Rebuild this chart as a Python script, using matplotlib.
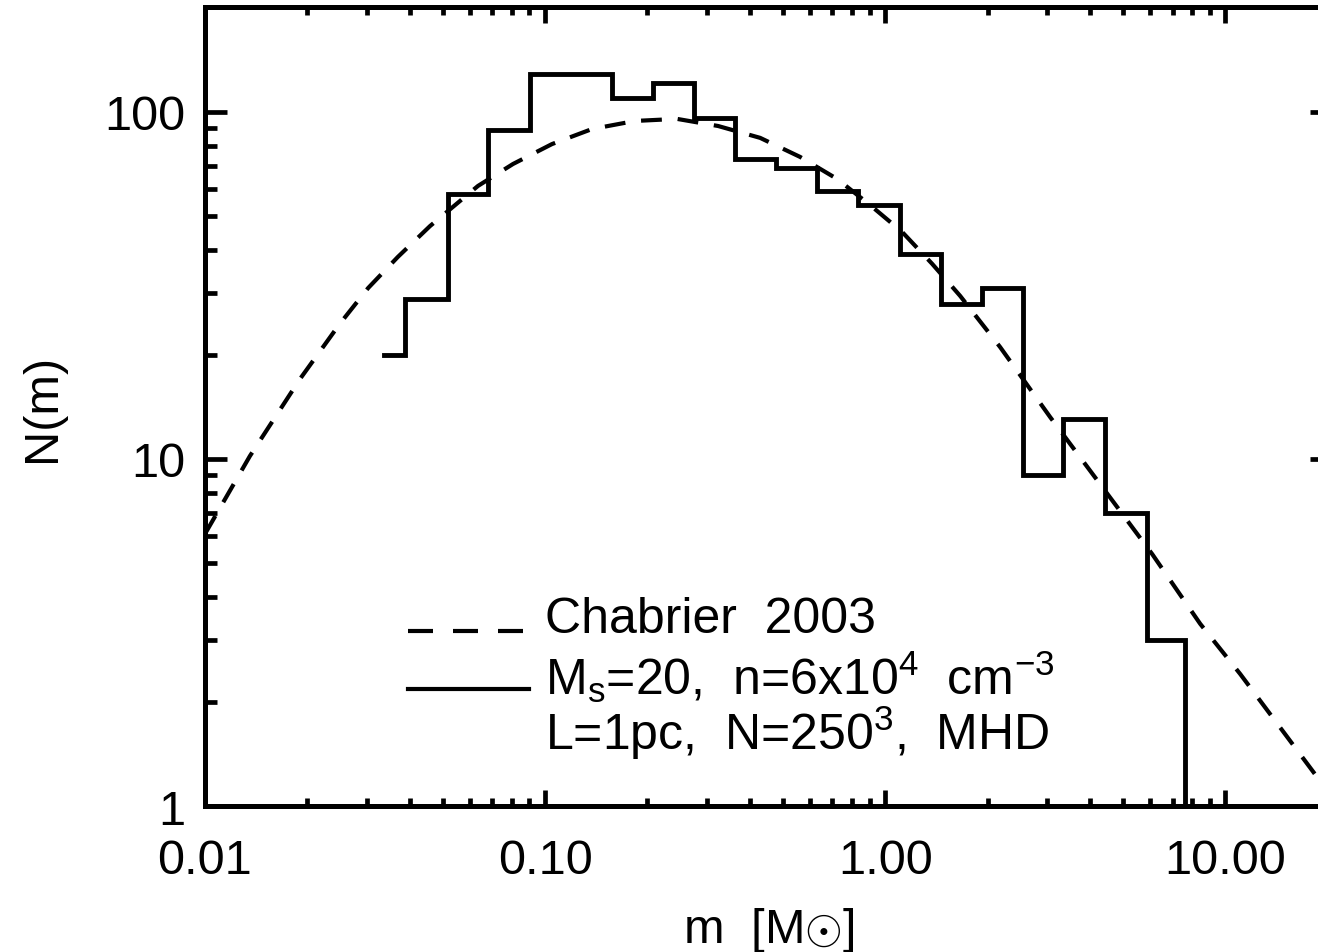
import numpy as np
import matplotlib.pyplot as plt
from matplotlib.ticker import FormatStrFormatter, NullFormatter

plt.rcParams['font.family'] = ['Liberation Sans', 'DejaVu Sans']
plt.rcParams['mathtext.fontset'] = 'custom'
plt.rcParams['mathtext.rm'] = 'Liberation Sans'
plt.rcParams['mathtext.it'] = 'Liberation Sans'
plt.rcParams['mathtext.sf'] = 'Liberation Sans'

# histogram of core masses (bin edges in Msun, counts per bin)
bin_edges = [0.0336, 0.0388, 0.0518, 0.0680, 0.0903, 0.1193, 0.1575, 0.2078,
             0.2743, 0.3621, 0.4779, 0.631, 0.833, 1.107, 1.461, 1.929,
             2.546, 3.338, 4.437, 5.897, 7.627]
bin_counts = [20, 29, 58, 89, 129, 129, 110, 121, 96, 73,
              69, 59, 54, 39, 28, 31, 9, 13, 7, 3]

# Chabrier 2003 curve
chab_m = [0.0100, 0.01356, 0.01903, 0.0249, 0.0302, 0.0369, 0.0459, 0.0635,
          0.0805, 0.1048, 0.1375, 0.1839, 0.2444, 0.3227, 0.4290, 0.5623,
          0.7226, 0.9035, 1.122, 1.375, 1.662, 2.179, 3.057, 4.347, 6.099,
          8.44, 11.07, 18.77, 20.6]
chab_n = [6.08, 10.2, 17.0, 24.5, 31.1, 38.2, 46.9, 61.2,
          70.8, 80.8, 89.3, 94.2, 95.5, 91.1, 84.2, 74.2,
          64.1, 53.9, 45.1, 36.5, 29.5, 21.0, 13.2, 8.31, 5.32,
          3.35, 2.40, 1.20, 1.06]

xmin, xmax = 0.01, 20.6
ymin, ymax = 1.0, 200.0

fig = plt.figure(figsize=(13.18, 9.53), dpi=100)
ax = fig.add_axes([0.1555, 0.1532, 0.8551, 0.8379])
ax.set_xscale('log')
ax.set_yscale('log')

ax.plot(chab_m, chab_n, color='black', lw=3, ls=(0, (5, 3.8)))

# step outline, dropping off the bottom after the last bin
x_step = np.repeat(bin_edges, 2)[1:]
y_step = np.append(np.repeat(bin_counts, 2), 0.5)
ax.plot(x_step, y_step, color='black', lw=3.5, solid_joinstyle='miter')

ax.set_xlim(xmin, xmax)
ax.set_ylim(ymin, ymax)

for s in ax.spines.values():
    s.set_linewidth(3.6)

ax.tick_params(which='both', direction='in', top=True, right=True, width=3.4,
               labelsize=35, color='black')
ax.tick_params(axis='x', which='major', length=11.5, pad=23)
ax.tick_params(axis='x', which='minor', length=5.8)
ax.tick_params(axis='y', which='major', length=15.8, pad=14)
ax.tick_params(axis='y', which='minor', length=8.6)
ax.xaxis.set_major_formatter(FormatStrFormatter('%.2f'))
ax.xaxis.set_minor_formatter(NullFormatter())
ax.yaxis.set_major_formatter(FormatStrFormatter('%d'))
ax.yaxis.set_minor_formatter(NullFormatter())

ax.set_xlabel(r'm  [M$\odot$]', fontsize=35, labelpad=16)
ax.set_ylabel('N(m)', fontsize=35, labelpad=28)

# hand-drawn legend like the original
ax.plot([0.1805, 0.2835], [0.219, 0.219], transform=ax.transAxes, color='black',
        lw=3, ls=(0, (6, 4.8)))
ax.plot([0.1805, 0.2875], [0.1465, 0.1465], transform=ax.transAxes, color='black',
        lw=3)
ax.text(0.302, 0.234, 'Chabrier  2003', transform=ax.transAxes,
        fontsize=36, va='center', ha='left')
ax.text(0.302, 0.163, r'M$_\mathrm{s}$=20,  n=6x10$^4$  cm$^{-3}$',
        transform=ax.transAxes, fontsize=36, va='center', ha='left')
ax.text(0.302, 0.0927, r'L=1pc,  N=250$^3$,  MHD', transform=ax.transAxes,
        fontsize=36, va='center', ha='left')

plt.savefig('out.png', dpi=100)
